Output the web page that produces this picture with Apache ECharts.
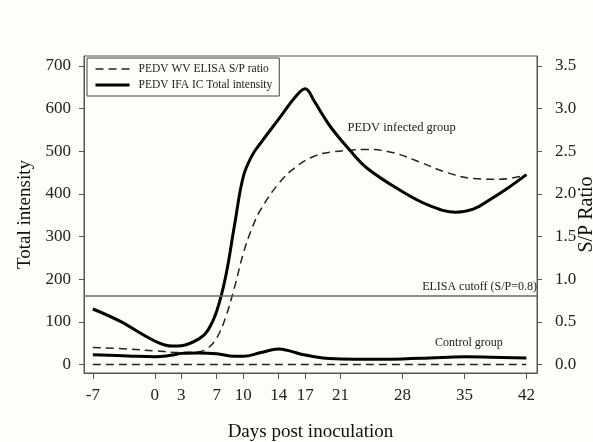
<!DOCTYPE html>
<html lang="en">
<head>
    <meta charset="UTF-8">
    <title>PEDV</title>
    <script src="https://cdn.jsdelivr.net/npm/echarts@6/dist/echarts.min.js"></script>
    <style>
        body { margin: 0; background: #fdfdf9; }
        #main { width: 593px; height: 442px; }
    </style>
</head>
<body>
    <div id="main"></div>
    <script>
        // days / values
        var dayTicks = [-7, 0, 3, 7, 10, 14, 17, 21, 28, 35, 42];
        var leftTicks = [0, 100, 200, 300, 400, 500, 600, 700];
        var rightTicks = [0, 0.5, 1, 1.5, 2, 2.5, 3, 3.5];

        // IFA total intensity, infected group (left axis)
        var ifaInfDays = [-7, -4, 0, 2, 3, 5, 6, 7, 8, 9, 10, 11, 12, 14, 16, 17, 18, 19, 20, 22, 24, 28, 31, 34, 36, 38, 40, 42];
        var ifaInf = [130, 102, 55, 43, 44, 60, 80, 125, 205, 325, 440, 490, 520, 575, 630, 646, 618, 584, 553, 503, 460, 405, 373, 357, 364, 388, 415, 445];

        // IFA total intensity, control group (left axis)
        var ifaCtlDays = [-7, -3, 0, 2, 3, 5, 7, 9, 10, 12, 14, 15, 17, 19, 21, 24, 28, 31, 35, 38, 42];
        var ifaCtl = [23, 20, 18, 22, 26, 27, 25, 19, 19, 28, 36, 33, 22, 15, 13, 12, 13, 15, 18, 17, 15];

        // ELISA S/P ratio, infected group (right axis)
        var spInfDays = [-7, -3, 0, 3, 5, 6, 7, 8, 9, 10, 11, 12, 14, 16, 18, 20, 24, 27, 30, 33, 36, 39, 42];
        var spInf = [0.20, 0.18, 0.16, 0.14, 0.15, 0.19, 0.31, 0.55, 0.90, 1.30, 1.60, 1.82, 2.12, 2.32, 2.44, 2.49, 2.52, 2.48, 2.37, 2.25, 2.18, 2.17, 2.22];

        // ELISA S/P ratio, control group (right axis)
        var spCtlDays = [-7, 0, 7, 14, 21, 28, 35, 42];
        var spCtl = [0, 0, 0, 0, 0, 0, 0, 0];

        var cutoff = 160; // S/P = 0.8 on the right axis

        function pairs(xs, ys) {
            return xs.map(function (x, i) { return [x, ys[i]]; });
        }

        var serif = 'Liberation Serif';
        var dash = [8, 5];

        var myChart = echarts.init(document.getElementById('main'));
        var option = {
            backgroundColor: '#fdfdf9',
            animation: false,
            color: ['#000'],
            textStyle: { fontFamily: serif },
            grid: {
                left: 84, top: 56, right: 56, bottom: 69,
                outerBoundsMode: 'none',
                containLabel: false,
                show: true, borderColor: '#555', borderWidth: 1
            },
            legend: {
                orient: 'vertical',
                left: 87, top: 58,
                padding: [5, 7],
                itemGap: 4,
                itemWidth: 34,
                itemHeight: 12,
                borderColor: '#444',
                borderWidth: 1,
                itemStyle: { opacity: 0 },
                data: [
                    { name: 'PEDV WV ELISA S/P ratio', lineStyle: { width: 1.5, type: dash, color: '#222' } },
                    { name: 'PEDV IFA IC Total intensity', lineStyle: { width: 3, color: '#000' } }
                ],
                textStyle: { fontFamily: serif, fontSize: 11.5, color: '#222', padding: [0, 0, 0, 4] }
            },
            xAxis: {
                type: 'value',
                min: -8, max: 43.2,
                name: 'Days post inoculation',
                nameLocation: 'middle',
                nameGap: 50,
                nameTextStyle: { fontFamily: serif, fontSize: 19, color: '#111' },
                axisLine: { onZero: false, lineStyle: { color: '#555' } },
                axisTick: { customValues: dayTicks, length: 6, lineStyle: { color: '#555' } },
                axisLabel: { customValues: dayTicks, margin: 14, fontSize: 17, color: '#222' },
                splitLine: { show: false }
            },
            yAxis: [{
                type: 'value',
                min: -20, max: 723,
                name: 'Total intensity',
                nameLocation: 'middle',
                nameGap: 48,
                nameTextStyle: { fontFamily: serif, fontSize: 19, color: '#111' },
                axisLine: { show: true, onZero: false, lineStyle: { color: '#555' } },
                axisTick: { show: true, customValues: leftTicks, length: 5, lineStyle: { color: '#555' } },
                axisLabel: { customValues: leftTicks, margin: 13, fontSize: 17, color: '#222' },
                splitLine: { show: false }
            }, {
                type: 'value',
                position: 'right',
                min: -0.1, max: 3.615,
                name: 'S/P Ratio',
                nameLocation: 'middle',
                nameGap: 40,
                nameMoveOverlap: false,
                nameTextStyle: { fontFamily: serif, fontSize: 20, color: '#111' },
                axisLine: { show: true, onZero: false, lineStyle: { color: '#555' } },
                axisTick: { show: true, customValues: rightTicks, length: 5, lineStyle: { color: '#555' } },
                axisLabel: {
                    customValues: rightTicks, margin: 18, fontSize: 17, color: '#222',
                    formatter: function (v) { return v.toFixed(1); }
                },
                splitLine: { show: false }
            }],
            series: [{
                name: 'PEDV WV ELISA S/P ratio',
                type: 'line',
                yAxisIndex: 1,
                smooth: 0.4,
                symbol: 'none',
                data: pairs(spInfDays, spInf),
                itemStyle: { color: '#222' },
                lineStyle: { color: '#222', width: 1.5, type: dash }
            }, {
                name: 'PEDV WV ELISA S/P ratio',
                type: 'line',
                yAxisIndex: 1,
                symbol: 'none',
                data: pairs(spCtlDays, spCtl),
                itemStyle: { color: '#222' },
                lineStyle: { color: '#222', width: 1.5, type: dash }
            }, {
                name: 'PEDV IFA IC Total intensity',
                type: 'line',
                yAxisIndex: 0,
                smooth: 0.4,
                symbol: 'none',
                data: pairs(ifaInfDays, ifaInf),
                itemStyle: { color: '#000' },
                lineStyle: { color: '#000', width: 3 },
                markLine: {
                    silent: true,
                    symbol: 'none',
                    lineStyle: { color: '#666', width: 1.5, type: 'solid' },
                    label: {
                        position: 'insideEndTop',
                        distance: [0, 3],
                        formatter: 'ELISA cutoff (S/P=0.8)',
                        fontFamily: serif, fontSize: 12, color: '#222'
                    },
                    data: [{ yAxis: cutoff }]
                },
                markPoint: {
                    silent: true,
                    symbol: 'circle',
                    symbolSize: 1,
                    itemStyle: { color: 'rgba(0,0,0,0)' },
                    label: { show: true, position: 'inside', fontFamily: serif, fontSize: 12.5, color: '#222' },
                    data: [{ coord: [27.9, 556], value: 'PEDV infected group' }]
                }
            }, {
                name: 'PEDV IFA IC Total intensity',
                type: 'line',
                yAxisIndex: 0,
                smooth: 0.4,
                symbol: 'none',
                data: pairs(ifaCtlDays, ifaCtl),
                itemStyle: { color: '#000' },
                lineStyle: { color: '#000', width: 3 },
                markPoint: {
                    silent: true,
                    symbol: 'circle',
                    symbolSize: 1,
                    itemStyle: { color: 'rgba(0,0,0,0)' },
                    label: { show: true, position: 'inside', fontFamily: serif, fontSize: 12, color: '#222' },
                    data: [{ coord: [35.5, 50], value: 'Control group' }]
                }
            }]
        };
        myChart.setOption(option);
    </script>
</body>
</html>
